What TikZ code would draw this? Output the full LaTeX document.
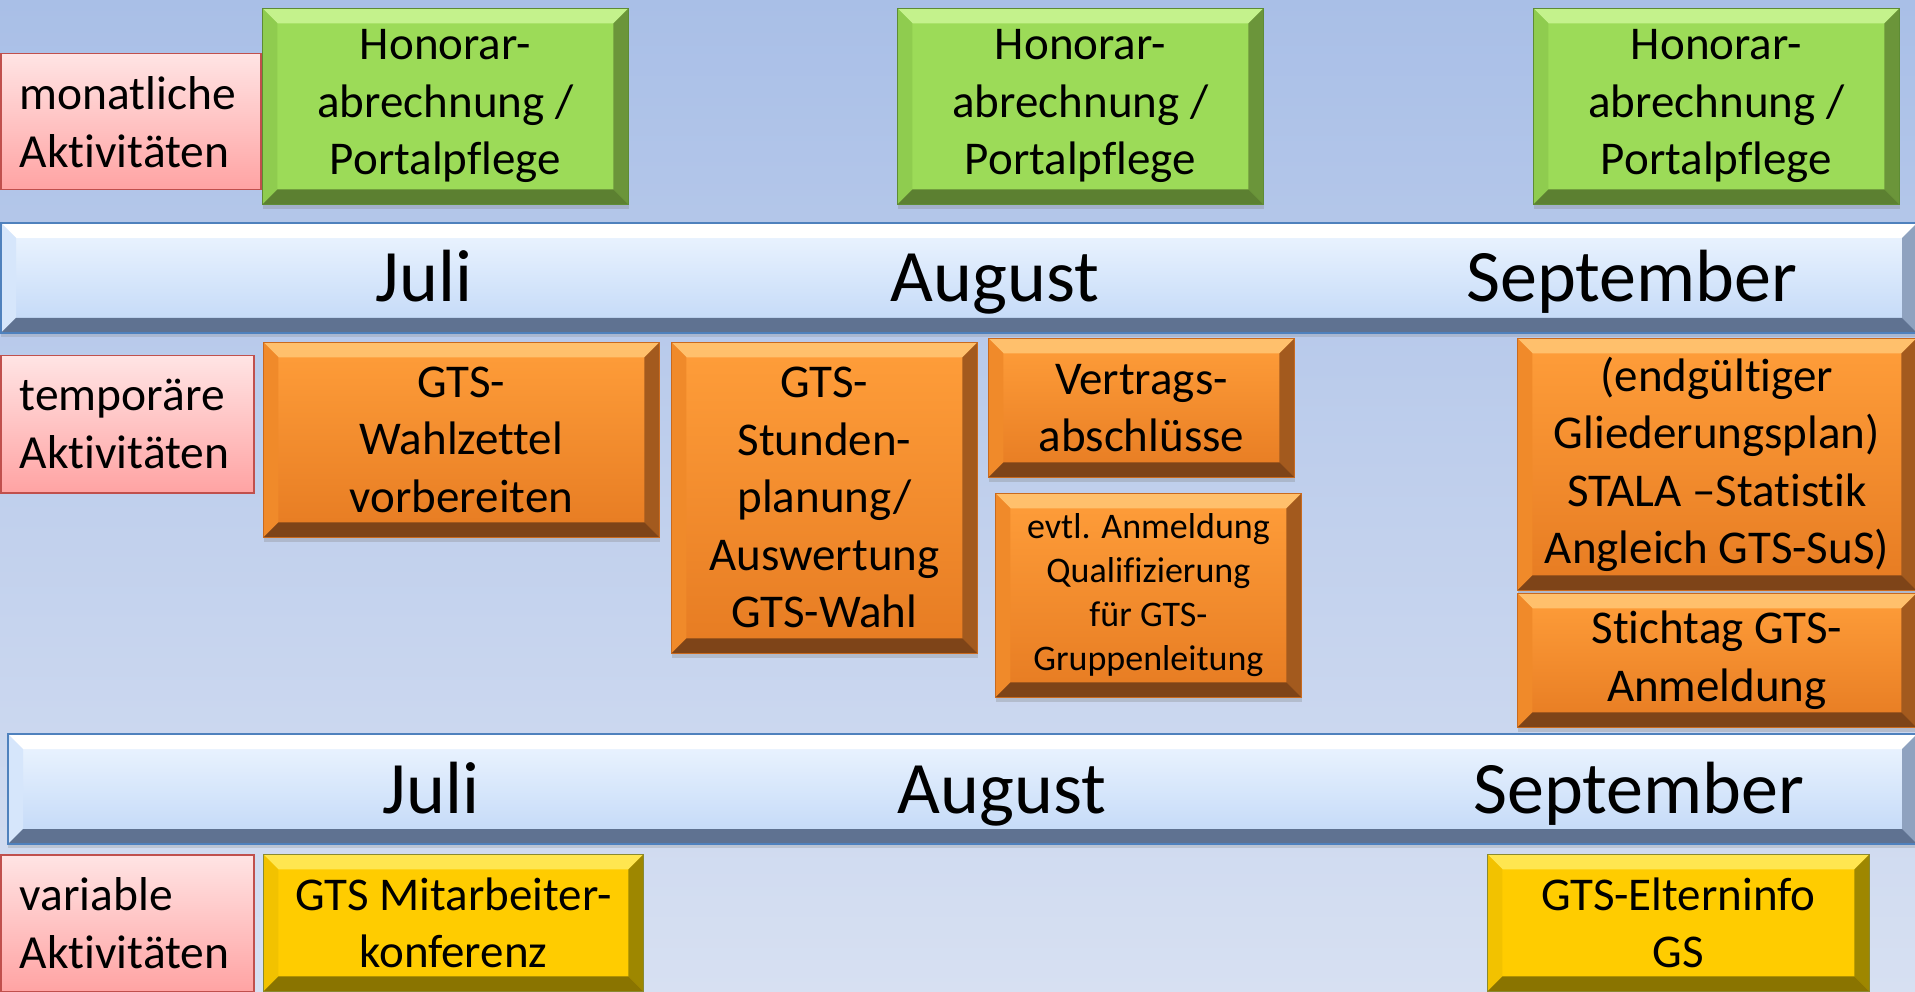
\documentclass[tikz,border=0pt]{standalone}
\usepackage{fontspec}
\setmainfont{Carlito}[Ligatures={TeX,NoCommon}]
\usepackage{tikz}
\usetikzlibrary{shadows}

\definecolor{bgtop}{HTML}{A9BFE7}
\definecolor{bgbot}{HTML}{D7E0F2}
\definecolor{lbltop}{HTML}{FFE4E4}
\definecolor{lblbot}{HTML}{FFA3A3}
\definecolor{lblline}{HTML}{C0504D}
\definecolor{grnface}{HTML}{9CDB58}
\definecolor{grnhi}{HTML}{C4F28C}
\definecolor{grnlo}{HTML}{5C8031}
\definecolor{grnside}{HTML}{6B953A}
\definecolor{grnleft}{HTML}{8FCC4F}
\definecolor{grnline}{HTML}{5E8C34}
\definecolor{orgtop}{HTML}{FF9E3A}
\definecolor{orgbot}{HTML}{E67B22}
\definecolor{orghi}{HTML}{FFC06C}
\definecolor{orglo}{HTML}{7E4418}
\definecolor{orgside}{HTML}{A35A1E}
\definecolor{orgleft}{HTML}{F08A2A}
\definecolor{orgline}{HTML}{C96A1E}
\definecolor{yelface}{HTML}{FFCC00}
\definecolor{yelhi}{HTML}{FFE650}
\definecolor{yello}{HTML}{8A7400}
\definecolor{yelside}{HTML}{9E8700}
\definecolor{yelleft}{HTML}{F2C200}
\definecolor{yelline}{HTML}{8A8A30}
\definecolor{bartop}{HTML}{EEF6FF}
\definecolor{barbot}{HTML}{C0D7F7}
\definecolor{barhi}{HTML}{FFFFFF}
\definecolor{barlo}{HTML}{5F7291}
\definecolor{barside}{HTML}{8FA2BF}
\definecolor{barleft}{HTML}{D6E6FB}
\definecolor{barline}{HTML}{4F81BD}

\begin{document}
\begin{tikzpicture}[x=1pt, y=-1pt,
bevel/.style n args={4}{
		path picture={
			\coordinate (nw) at (path picture bounding box.north west);
			\coordinate (ne) at (path picture bounding box.north east);
			\coordinate (sw) at (path picture bounding box.south west);
			\coordinate (se) at (path picture bounding box.south east);
			\fill[#1] (nw) -- (ne) -- ([xshift=-\bw, yshift=-\bw]ne) -- ([xshift=\bw, yshift=-\bw]nw) -- cycle;
			\fill[#4] (nw) -- (sw) -- ([xshift=\bw, yshift=\bw]sw) -- ([xshift=\bw, yshift=-\bw]nw) -- cycle;
			\fill[#3] (ne) -- (se) -- ([xshift=-\bw, yshift=\bw]se) -- ([xshift=-\bw, yshift=-\bw]ne) -- cycle;
			\fill[#2] (sw) -- (se) -- ([xshift=-\bw, yshift=\bw]se) -- ([xshift=\bw, yshift=\bw]sw) -- cycle;
		}
		},
act/.style={
		anchor=north west,
		inner sep=0pt,
		align=center,
		line width=0.8pt,
		font=\fontsize{47}{57.5}\selectfont,
		drop shadow={shadow xshift=1pt, shadow yshift=-5pt, opacity=0.3},
		},
greenbox/.style={act, fill=grnface, draw=grnline, bevel={grnhi}{grnlo}{grnside}{grnleft}},
orangebox/.style={act, top color=orgtop, bottom color=orgbot, draw=orgline, bevel={orghi}{orglo}{orgside}{orgleft}},
yellowbox/.style={act, fill=yelface, draw=yelline, bevel={yelhi}{yello}{yelside}{yelleft}},
monthbar/.style={
		anchor=north west,
		inner sep=0pt,
		minimum height=110pt,
		top color=bartop, bottom color=barbot,
		draw=barline, line width=2pt,
		bevel={barhi}{barlo}{barside}{barleft},
		drop shadow={shadow xshift=0pt, shadow yshift=-4pt, opacity=0.25},
		},
monthtext/.style={anchor=base, inner sep=0pt, font=\fontsize{74}{88}\selectfont},
lbl/.style={
		anchor=north west,
		inner xsep=19pt, inner ysep=0pt,
		align=left,
		minimum height=136pt,
		top color=lbltop, bottom color=lblbot,
		draw=lblline, line width=1.5pt,
		font=\fontsize{47.5}{58}\selectfont,
		}
]

\def \bw {15pt} % width of the bevel edges

\useasboundingbox (0,0) rectangle (1915,992);
\fill[top color=bgtop, bottom color=bgbot] (0,0) rectangle (1915,992);

% monthly row
\node[lbl, text width=222pt] (mon) at (0,53) {monatliche\\Aktivitäten};
\foreach \i/\x in {1/262, 2/897, 3/1533}
	\node[greenbox, minimum width=366pt, minimum height=196pt] (hon\i) at (\x,8) {Honorar-\\abrechnung /\\Portalpflege};

% month bars
\node[monthbar, minimum width=1916pt] (bar1) at (0,222) {};
\node[monthbar, minimum width=1909pt] (bar2) at (7,733) {};
\foreach \row in {bar1, bar2}
	\foreach \mon/\off in {Juli/424, August/995, September/1632}
		\node[monthtext] (\row-\mon) at ([xshift=\off pt, yshift=-24pt]\row.west) {\mon};

% temporary row
\node[lbl, text width=215pt, minimum height=137pt] (temp) at (0,355) {temporäre\\Aktivitäten};
\node[orangebox, minimum width=396pt, minimum height=195pt] (wahl) at (263,342) {GTS-\\Wahlzettel\\vorbereiten};
\node[orangebox, minimum width=306pt, minimum height=311pt] (stunden) at (671,342) {GTS-\\Stunden-\\planung/\\Auswertung\\GTS-Wahl};
\node[orangebox, minimum width=306pt, minimum height=139pt] (vertrag) at (988,338) {Vertrags-\\abschlüsse};
\node[orangebox, minimum width=306pt, minimum height=204pt, font=\fontsize{36}{44}\selectfont] (quali) at (995,493) {evtl. Anmeldung\\Qualifizierung\\für GTS-\\Gruppenleitung};
\node[orangebox, minimum width=399pt, minimum height=252pt] (stala) at (1517,338) {(endgültiger\\Gliederungsplan)\\STALA –Statistik\\Angleich GTS-SuS)};
\node[orangebox, minimum width=399pt, minimum height=134pt] (stichtag) at (1517,593) {Stichtag GTS-\\Anmeldung};

% variable row
\node[lbl, text width=215pt, minimum height=137pt] (var) at (0,854) {variable\\Aktivitäten};
\node[yellowbox, minimum width=380pt, minimum height=137pt] (konf) at (263,854) {GTS Mitarbeiter-\\konferenz};
\node[yellowbox, minimum width=382pt, minimum height=137pt] (eltern) at (1487,854) {GTS-Elterninfo\\GS};

\end{tikzpicture}
\end{document}
